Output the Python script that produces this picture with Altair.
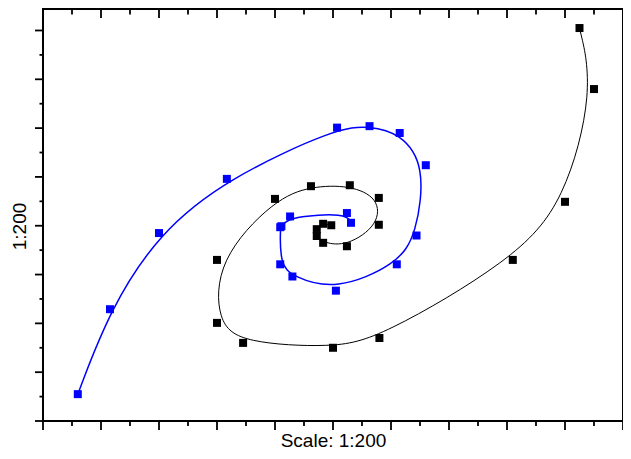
import altair as alt
import pandas as pd

# Black spiral markers (outer -> inner)
black_x = [9.25, 9.5, 9.0, 8.1, 5.8, 5.0, 3.45, 3.0, 3.0, 4.0, 4.62, 5.29, 5.79, 5.79, 5.24, 4.83, 4.72, 4.72, 4.83, 4.97]
black_y = [8.05, 6.8, 4.49, 3.3, 1.7, 1.5, 1.6, 2.01, 3.3, 4.55, 4.81, 4.83, 4.57, 4.02, 3.58, 3.65, 3.79, 3.93, 4.04, 4.01]

# Blue spiral markers (outer -> inner)
blue_x = [0.6, 1.155, 2.0, 3.17, 5.07, 5.63, 6.15, 6.6, 6.44, 6.1, 5.05, 4.3, 4.09, 4.09, 4.11, 4.26, 5.24, 5.31]
blue_y = [0.55, 2.29, 3.85, 4.96, 6.01, 6.04, 5.9, 5.24, 3.8, 3.21, 2.67, 2.96, 3.21, 3.97, 3.99, 4.19, 4.26, 4.06]

# Tick positions
x_major = [0, 1, 2, 3, 4, 5, 6, 7, 8, 9, 10]
x_minor = [0.5, 1.5, 2.5, 3.5, 4.5, 5.5, 6.5, 7.5, 8.5, 9.5]
y_major = [0, 1, 2, 3, 4, 5, 6, 7, 8]
y_minor = [0.5, 1.5, 2.5, 3.5, 4.5, 5.5, 6.5, 7.5]

x_title = "Scale: 1:200"
y_title = "1:200"

W, H = 580, 412
FONT = "Liberation Sans"
FS = 19

xs = alt.Scale(domain=[0, 10], nice=False, zero=False)
ys = alt.Scale(domain=[0, 8.44], nice=False, zero=False)

x_axis = alt.Axis(title=x_title, labels=False, ticks=False, domain=False, grid=False,
                  titleFont=FONT, titleFontSize=FS, titleFontWeight="normal",
                  titleColor="black", titleBaseline="alphabetic", titleY=25)
y_axis = alt.Axis(title=y_title, labels=False, ticks=False, domain=False, grid=False,
                  titleFont=FONT, titleFontSize=FS, titleFontWeight="normal",
                  titleColor="black", titleBaseline="alphabetic", titleAngle=270,
                  titleAlign="center", titleX=-18, titleY=217)

X = alt.X("x:Q", scale=xs, axis=x_axis)
Y = alt.Y("y:Q", scale=ys, axis=y_axis)

black = pd.DataFrame({"x": black_x, "y": black_y, "i": list(range(len(black_x)))})
blue = pd.DataFrame({"x": blue_x, "y": blue_y, "i": list(range(len(blue_x)))})

black_line = alt.Chart(black).mark_line(interpolate="basis", color="black", strokeWidth=1).encode(
    x=X, y=Y, order=alt.Order("i:Q"))
blue_line = alt.Chart(blue).mark_line(interpolate="basis", color="#0000ff", strokeWidth=1.5).encode(
    x=X, y=Y, order=alt.Order("i:Q"))
black_pts = alt.Chart(black).mark_square(size=64, color="black", opacity=1).encode(x=X, y=Y)
blue_pts = alt.Chart(blue).mark_square(size=64, color="#0000ff", opacity=1).encode(x=X, y=Y)

TW = 1.8
def xticks(vals, y0, y1):
    return alt.Chart(pd.DataFrame({"x": vals})).mark_rule(color="black", strokeWidth=TW).encode(
        x=X, y=alt.value(y0), y2=alt.value(y1))

def yticks(vals, x0, x1):
    return alt.Chart(pd.DataFrame({"y": vals})).mark_rule(color="black", strokeWidth=TW).encode(
        y=Y, x=alt.value(x0), x2=alt.value(x1))

tick_layers = [
    xticks(x_major, H, H + 9), xticks(x_minor, H, H + 5),
    xticks(x_major, 0, 9), xticks(x_minor, 0, 5.5),
    yticks(y_major, 0, -8), yticks(y_minor, 0, -3.5),
]

chart = alt.layer(
    black_line, blue_line, black_pts, blue_pts, *tick_layers
).properties(
    width=W, height=H,
    autosize=alt.AutoSizeParams(type="none"),
    padding={"left": 35, "top": 1, "right": 0, "bottom": 30},
    background="white",
).configure_view(stroke="black", strokeWidth=2)

chart.save("out.html", embed_options={"renderer": "svg", "actions": False})
